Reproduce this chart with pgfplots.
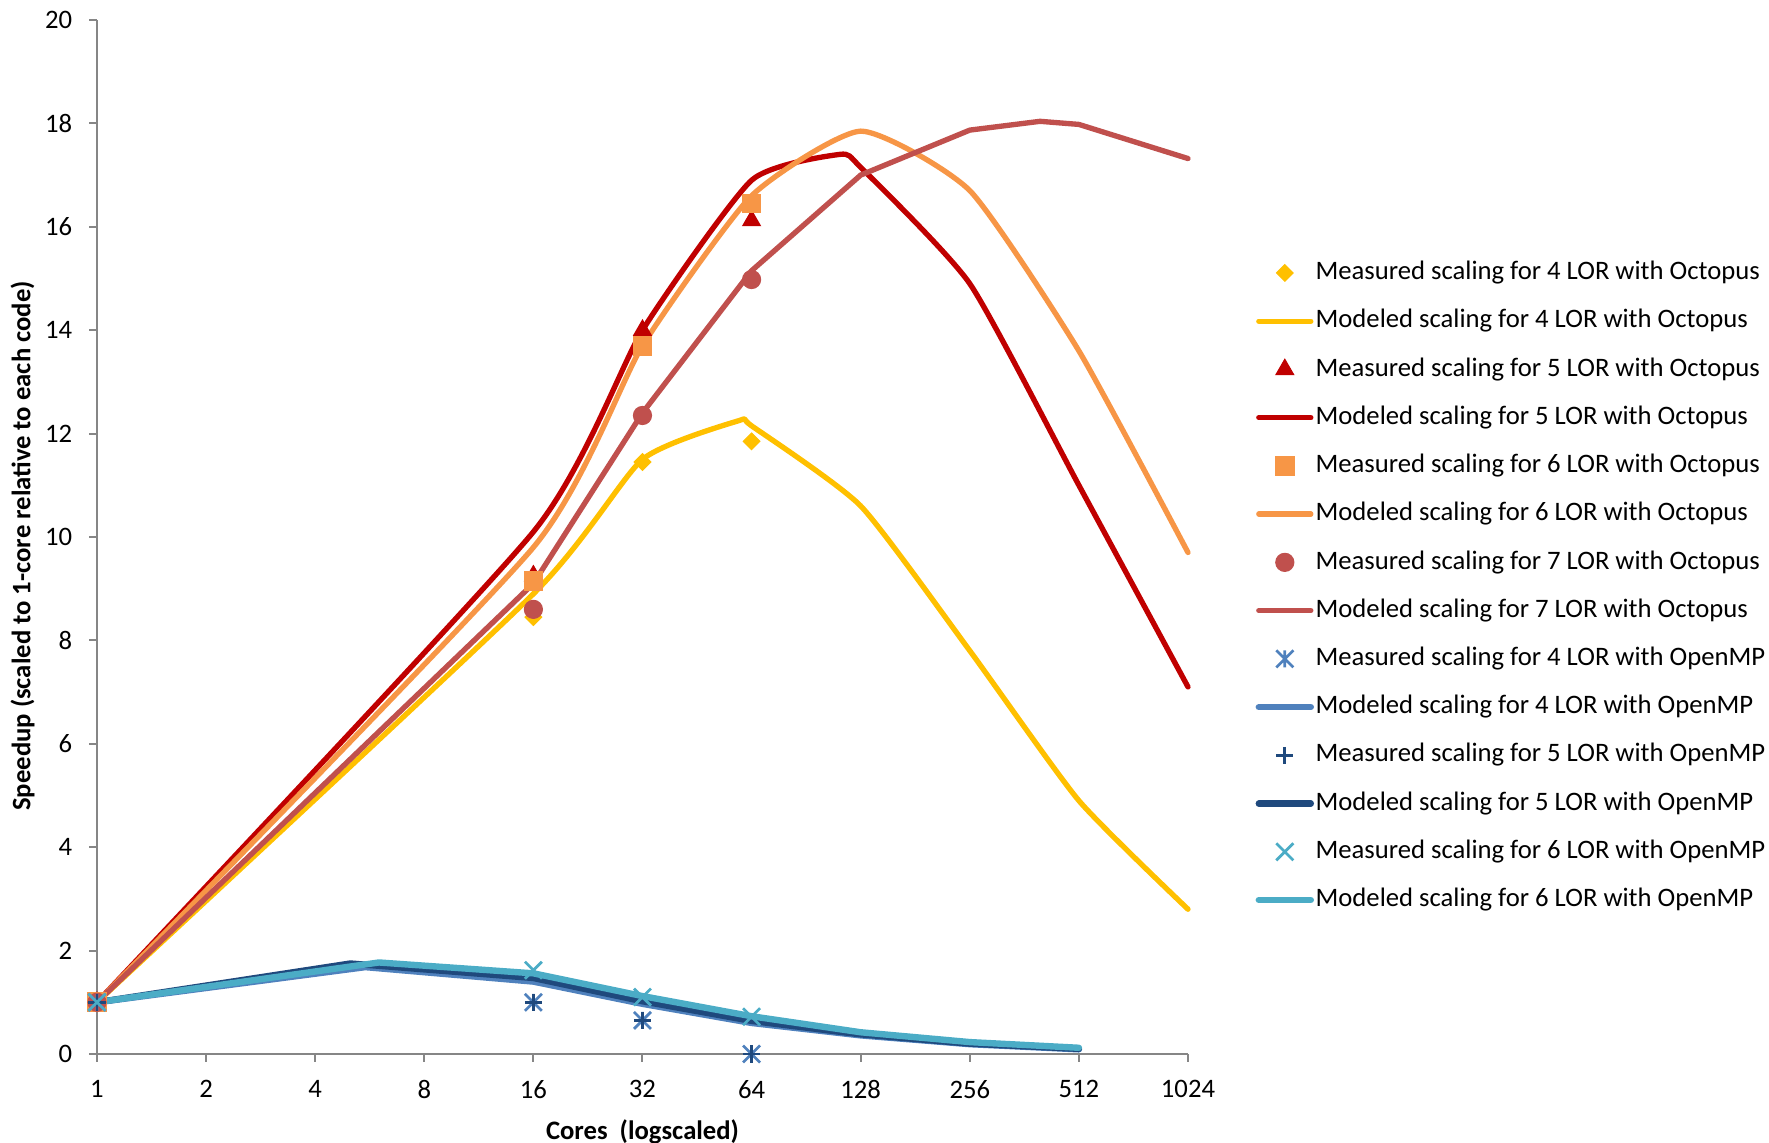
\documentclass[border=0pt]{standalone}
\usepackage{pgfplots}
\pgfplotsset{compat=1.18}
\usepackage{fontspec}
\setmainfont{Carlito}
\definecolor{cYel}{HTML}{FFC000}
\definecolor{cRed}{HTML}{C00000}
\definecolor{cOra}{HTML}{F79646}
\definecolor{cBrn}{HTML}{C0504D}
\definecolor{cBlu}{HTML}{4F81BD}
\definecolor{cDbl}{HTML}{1F497D}
\definecolor{cTea}{HTML}{4BACC6}
\definecolor{cAx}{HTML}{868686}
\pgfdeclareplotmark{xstar}{%
  \pgfpathmoveto{\pgfqpoint{-\pgfplotmarksize}{-\pgfplotmarksize}}%
  \pgfpathlineto{\pgfqpoint{\pgfplotmarksize}{\pgfplotmarksize}}%
  \pgfpathmoveto{\pgfqpoint{-\pgfplotmarksize}{\pgfplotmarksize}}%
  \pgfpathlineto{\pgfqpoint{\pgfplotmarksize}{-\pgfplotmarksize}}%
  \pgfpathmoveto{\pgfqpoint{0pt}{-\pgfplotmarksize}}%
  \pgfpathlineto{\pgfqpoint{0pt}{\pgfplotmarksize}}%
  \pgfusepathqstroke}
\pgfdeclareplotmark{xcross}{%
  \pgfpathmoveto{\pgfqpoint{-\pgfplotmarksize}{-\pgfplotmarksize}}%
  \pgfpathlineto{\pgfqpoint{\pgfplotmarksize}{\pgfplotmarksize}}%
  \pgfpathmoveto{\pgfqpoint{-\pgfplotmarksize}{\pgfplotmarksize}}%
  \pgfpathlineto{\pgfqpoint{\pgfplotmarksize}{-\pgfplotmarksize}}%
  \pgfusepathqstroke}
\pgfplotsset{
  model/.style={mark=none, line width=2pt, line cap=round, line join=round},
  omodel/.style={mark=none, line width=2.4pt, line cap=round, line join=round},
  meas/.style={only marks},
}
\begin{document}
\begin{tikzpicture}
\useasboundingbox (-36.375pt,-33.375pt) rectangle (627pt,395.25pt);
\begin{axis}[
  at={(0,0)}, anchor=south west,
  scale only axis, width=409.125pt, height=387.75pt,
  xmode=log, log basis x=2, xmin=1, xmax=1024, ymin=0, ymax=20,
  axis x line*=bottom, axis y line*=left,
  axis line style={draw=cAx, line width=0.75pt, -},
  tick align=outside, major tick length=3pt,
  tick style={draw=cAx, line width=0.75pt},
  xtick={1,2,4,8,16,32,64,128,256,512,1024},
  xticklabels={1,2,4,8,16,32,64,128,256,512,1024},
  ytick={0,2,4,6,8,10,12,14,16,18,20},
  yticklabels={0,2,4,6,8,10,12,14,16,18,20},
  minor tick num=0,
  tick label style={font=\fontsize{10}{12}\selectfont, black},
  xticklabel style={yshift=-3.3pt},
  yticklabel style={xshift=-2.8pt},
  xlabel={Cores\ \ (logscaled)},
  ylabel={Speedup (scaled to 1-core relative to each code)},
  label style={font=\bfseries\fontsize{10}{12}\selectfont},
  xlabel style={at={(axis description cs:0.5,-0.075)}, anchor=center},
  ylabel style={at={(axis description cs:-0.0682,0.4913)}, anchor=center},
  clip=false,
  smooth, tension=0.3333,
  legend cell align=left,
  legend style={draw=none, fill=none, at={(axis description cs:1.0615,0.7675)}, anchor=north west,
    inner sep=0pt, row sep=9.09pt, column sep=0.6pt, font=\fontsize{10}{12}\selectfont,
    nodes={inner sep=0pt, text height=7pt, text depth=2pt}},
  legend image code/.code={\path[draw=none,fill=none] (0pt,-2pt) rectangle (19.5pt,2pt);
    \draw[mark repeat=2,mark phase=2,#1] plot coordinates {(0pt,0pt) (9.75pt,0pt) (19.5pt,0pt)};},
]
% 4 LOR Octopus
\addplot[meas, mark=square*, mark size=2.2pt, color=cYel, mark options={rotate=45}]
  coordinates {(1,1) (16,8.45) (32,11.45) (64,11.85)};
\addlegendentry{Measured scaling for 4 LOR with Octopus}
\addplot[model, color=cYel]
  coordinates {(1,1) (16,8.9) (32,11.5) (59,12.25) (64,12.15) (128,10.6) (256,7.8) (512,4.9) (1024,2.8)};
\addlegendentry{Modeled scaling for 4 LOR with Octopus}
% 5 LOR Octopus
\addplot[meas, mark=triangle*, mark size=3.8pt, color=cRed]
  coordinates {(1,1) (16,9.25) (32,14.0) (64,16.12)};
\addlegendentry{Measured scaling for 5 LOR with Octopus}
\addplot[model, color=cRed]
  coordinates {(1,1) (16,10.1) (32,14.0) (64,16.9) (112,17.4) (128,17.15) (256,14.9) (512,11.0) (1024,7.1)};
\addlegendentry{Modeled scaling for 5 LOR with Octopus}
% 6 LOR Octopus
\addplot[meas, mark=square*, mark size=3.5pt, color=cOra]
  coordinates {(1,1) (16,9.15) (32,13.7) (64,16.45)};
\addlegendentry{Measured scaling for 6 LOR with Octopus}
\addplot[model, color=cOra]
  coordinates {(1,1) (16,9.8) (32,13.7) (64,16.6) (128,17.85) (256,16.7) (512,13.6) (1024,9.7)};
\addlegendentry{Modeled scaling for 6 LOR with Octopus}
% 7 LOR Octopus
\addplot[meas, mark=*, mark size=3.4pt, color=cBrn]
  coordinates {(1,1) (16,8.6) (32,12.35) (64,14.98)};
\addlegendentry{Measured scaling for 7 LOR with Octopus}
\addplot[model, sharp plot, color=cBrn]
  coordinates {(1,1) (16,9.1) (32,12.4) (64,15.15) (128,17.0) (256,17.87) (400,18.04) (512,17.98) (1024,17.32)};
\addlegendentry{Modeled scaling for 7 LOR with Octopus}
% 4 LOR OpenMP
\addplot[meas, mark=xstar, mark size=3.2pt, color=cBlu, line width=1pt]
  coordinates {(1,1) (16,1.0) (32,0.65) (64,0.0)};
\addlegendentry{Measured scaling for 4 LOR with OpenMP}
\addplot[omodel, sharp plot, color=cBlu]
  coordinates {(1,1) (5.5,1.68) (16,1.4) (32,0.97) (64,0.6) (128,0.36) (256,0.19) (512,0.09)};
\addlegendentry{Modeled scaling for 4 LOR with OpenMP}
% 5 LOR OpenMP
\addplot[meas, mark=+, mark size=3.2pt, color=cDbl, line width=1pt]
  coordinates {(1,1) (16,1.0) (32,0.65) (64,0.0)};
\addlegendentry{Measured scaling for 5 LOR with OpenMP}
\addplot[omodel, sharp plot, color=cDbl]
  coordinates {(1,1) (5,1.75) (16,1.47) (32,1.02) (64,0.64) (128,0.38) (256,0.2) (512,0.1)};
\addlegendentry{Modeled scaling for 5 LOR with OpenMP}
% 6 LOR OpenMP
\addplot[meas, mark=xcross, mark size=3.2pt, color=cTea, line width=1pt]
  coordinates {(1,1) (16,1.62) (32,1.1) (64,0.72)};
\addlegendentry{Measured scaling for 6 LOR with OpenMP}
\addplot[omodel, sharp plot, color=cTea]
  coordinates {(1,1) (6,1.77) (16,1.56) (32,1.12) (64,0.73) (128,0.42) (256,0.23) (512,0.12)};
\addlegendentry{Modeled scaling for 6 LOR with OpenMP}
\end{axis}
\end{tikzpicture}
\end{document}
